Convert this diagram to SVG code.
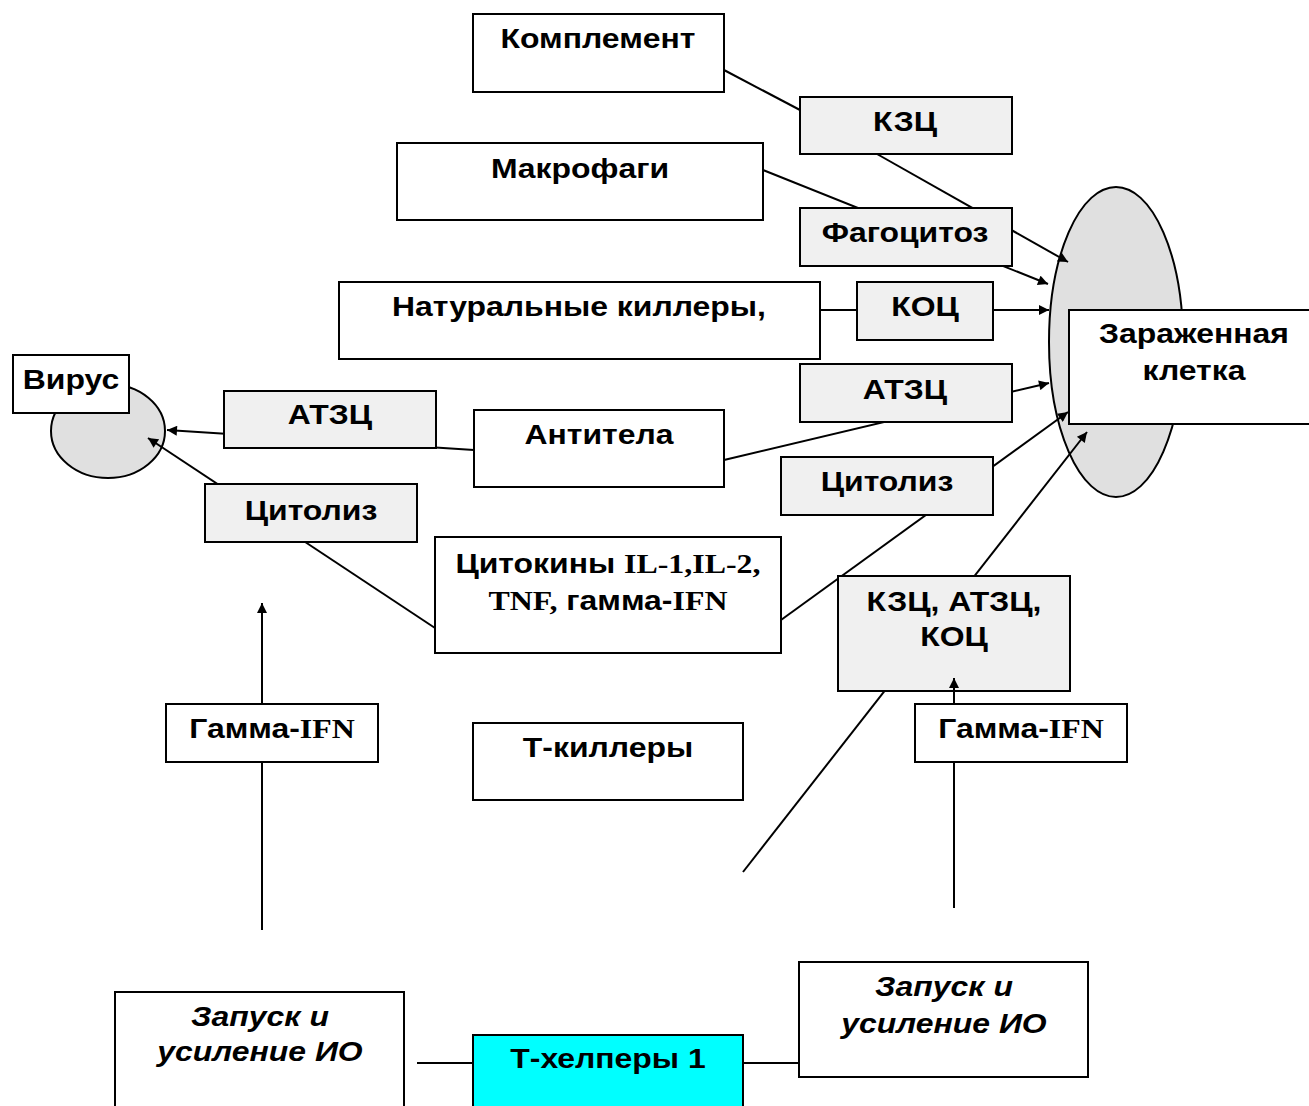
<svg xmlns="http://www.w3.org/2000/svg" width="1309" height="1106" viewBox="0 0 1309 1106">
<style>
.box{fill:#fff;stroke:#000;stroke-width:2}
.g{fill:#f0f0f0;stroke:#000;stroke-width:2}
.el{fill:#e0e0e0;stroke:#000;stroke-width:2}
.cy{fill:#00ffff;stroke:#000;stroke-width:2}
.ln{stroke:#000;stroke-width:2;fill:none}
.ar{stroke:#000;stroke-width:2;fill:none;marker-end:url(#ah)}
text{font-family:"Liberation Sans",Arial,sans-serif;font-weight:bold;font-size:28px;text-anchor:middle;fill:#000}
.it{font-style:italic}
.tm{font-family:"Liberation Serif","Times New Roman",serif;font-weight:bold}
</style>
<defs>
<marker id="ah" viewBox="0 0 10 10" refX="10" refY="5" markerWidth="6" markerHeight="5" markerUnits="strokeWidth" orient="auto">
<path d="M0,0 L10,5 L0,10 z" fill="#000"/>
</marker>
</defs>
<rect width="1309" height="1106" fill="#fff"/>

<g id="infected-cell-ellipse"><ellipse class="el" cx="1116" cy="342" rx="67" ry="155"/></g>
<g id="virus-ellipse"><ellipse class="el" cx="108" cy="431" rx="57" ry="47"/></g>

<g id="connectors">
<line class="ln" x1="724" y1="70" x2="800" y2="110"/>
<line class="ar" x1="877" y1="154" x2="1068" y2="262"/>
<line class="ar" x1="763" y1="170" x2="1048" y2="284"/>
<line class="ar" x1="820" y1="310" x2="1049" y2="310"/>
<line class="ar" x1="724" y1="460" x2="1049" y2="383"/>
<line class="ar" x1="781" y1="620" x2="1068" y2="412"/>
<line class="ar" x1="743" y1="872" x2="1087" y2="432"/>
<line class="ar" x1="474" y1="450" x2="167" y2="430"/>
<line class="ar" x1="435" y1="628" x2="148" y2="438"/>
<line class="ar" x1="262" y1="930" x2="262" y2="603"/>
<line class="ln" x1="417" y1="1063" x2="473" y2="1063"/>
<line class="ln" x1="743" y1="1063" x2="799" y2="1063"/>
</g>

<g id="complement"><rect class="box" x="473" y="14" width="251" height="78"/><text transform="translate(598,48) scale(1.14,1)">Комплемент</text></g>
<g id="kzc"><rect class="g" x="800" y="97" width="212" height="57"/><text transform="translate(905,131) scale(1.14,1)">КЗЦ</text></g>
<g id="macrophages"><rect class="box" x="397" y="143" width="366" height="77"/><text transform="translate(580,178) scale(1.14,1)">Макрофаги</text></g>
<g id="phagocytosis"><rect class="g" x="800" y="208" width="212" height="58"/><text transform="translate(905,242) scale(1.14,1)">Фагоцитоз</text></g>
<g id="nk"><rect class="box" x="339" y="282" width="481" height="77"/><text transform="translate(579,316) scale(1.14,1)">Натуральные киллеры,</text></g>
<g id="koc"><rect class="g" x="857" y="282" width="136" height="58"/><text transform="translate(925,316) scale(1.14,1)">КОЦ</text></g>
<g id="atzc-right"><rect class="g" x="800" y="364" width="212" height="58"/><text transform="translate(905,399) scale(1.14,1)">АТЗЦ</text></g>
<g id="infected-cell"><rect class="box" x="1069" y="310" width="252" height="114"/><g transform="translate(1194,343) scale(1.14,1)"><text>Зараженная</text><text y="37">клетка</text></g></g>
<g id="virus"><rect class="box" x="13" y="355" width="116" height="58"/><text transform="translate(71,389) scale(1.14,1)">Вирус</text></g>
<g id="atzc-left"><rect class="g" x="224" y="391" width="212" height="57"/><text transform="translate(330,424) scale(1.14,1)">АТЗЦ</text></g>
<g id="antibodies"><rect class="box" x="474" y="410" width="250" height="77"/><text transform="translate(599,444) scale(1.14,1)">Антитела</text></g>
<g id="cytolysis-right"><rect class="g" x="781" y="457" width="212" height="58"/><text transform="translate(887,491) scale(1.14,1)">Цитолиз</text></g>
<g id="cytolysis-left"><rect class="g" x="205" y="484" width="212" height="58"/><text transform="translate(311,520) scale(1.14,1)">Цитолиз</text></g>
<g id="cytokines"><rect class="box" x="435" y="537" width="346" height="116"/><g transform="translate(608,573) scale(1.14,1)"><text>Цитокины <tspan class="tm">IL-1,IL-2,</tspan></text><text y="37"><tspan class="tm">TNF,</tspan> гамма-<tspan class="tm">IFN</tspan></text></g></g>
<g id="kzc-atzc-koc"><rect class="g" x="838" y="576" width="232" height="115"/><g transform="translate(954,611) scale(1.14,1)"><text>КЗЦ, АТЗЦ,</text><text y="35">КОЦ</text></g></g>
<g id="connector-gamma-right"><line class="ar" x1="954" y1="908" x2="954" y2="678"/></g>
<g id="gamma-ifn-left"><rect class="box" x="166" y="704" width="212" height="58"/><text transform="translate(272,738) scale(1.14,1)">Гамма-<tspan class="tm">IFN</tspan></text></g>
<g id="t-killers"><rect class="box" x="473" y="723" width="270" height="77"/><text transform="translate(608,757) scale(1.14,1)">Т-киллеры</text></g>
<g id="gamma-ifn-right"><rect class="box" x="915" y="704" width="212" height="58"/><text transform="translate(1021,738) scale(1.14,1)">Гамма-<tspan class="tm">IFN</tspan></text></g>
<g id="launch-left"><rect class="box" x="115" y="992" width="289" height="130"/><g transform="translate(260,1026) scale(1.14,1)"><text class="it">Запуск и</text><text class="it" y="35">усиление ИО</text></g></g>
<g id="t-helpers"><rect class="cy" x="473" y="1035" width="270" height="90"/><text transform="translate(608,1068) scale(1.14,1)">Т-хелперы 1</text></g>
<g id="launch-right"><rect class="box" x="799" y="962" width="289" height="115"/><g transform="translate(944,996) scale(1.14,1)"><text class="it">Запуск и</text><text class="it" y="37">усиление ИО</text></g></g>
</svg>
